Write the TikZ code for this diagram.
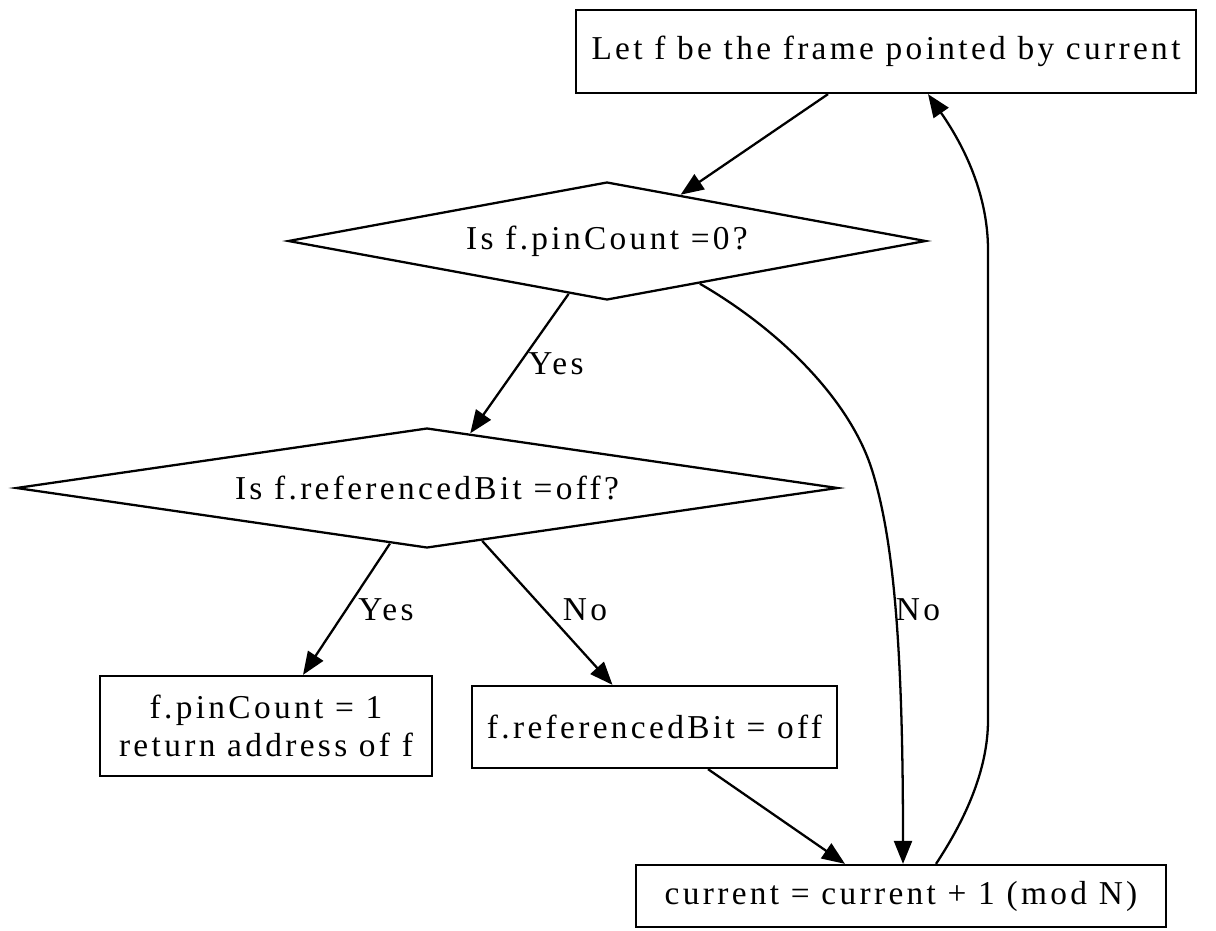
\documentclass[tikz,border=0pt]{standalone}
\usepackage{fontspec}
\setmainfont{Liberation Serif}[LetterSpace=10]
\usetikzlibrary{arrows.meta, positioning, shapes.geometric, calc}

\begin{document}
\begin{tikzpicture}[x=0.02cm, y=-0.02cm, font=\fontsize{19}{22}\selectfont,
    box/.style={draw, rectangle, line width=1.3pt, inner sep=0pt, align=center},
    ask/.style={draw, diamond, line width=1.3pt, inner sep=0pt},
    arr/.style={-{Triangle[length=0.46cm, width=0.36cm]}, line width=1.3pt}]
    \useasboundingbox (0,0) rectangle (1216,930);
    % 结点
    \node[box, minimum width=12.4cm, minimum height=1.66cm] (start) at (886,51.5) {Let f be the frame pointed by current};
    \node[ask, aspect=5.4, minimum width=12.76cm, minimum height=2.36cm] (pin) at (607,241) {Is f.pinCount =0?};
    \node[ask, aspect=6.85, minimum width=16.44cm, minimum height=2.4cm] (ref) at (427,488) {Is f.referencedBit =off?};
    \node[box, minimum width=6.64cm, minimum height=2cm] (hit) at (266,726) {f.pinCount = 1\\return address of f};
    \node[box, minimum width=7.3cm, minimum height=1.64cm] (clr) at (654.5,727) {f.referencedBit = off};
    \node[box, minimum width=10.6cm, minimum height=1.24cm] (adv) at (901,896) {current = current + 1 (mod N)};
    % 连线
    \draw[arr] ($(start.south)+(-58,0)$) -- ($(pin.north)!0.23!(pin.east)$);
    \draw[arr] ($(pin.south)!0.12!(pin.west)$) -- ($(ref.north)!0.105!(ref.east)$);
    \draw[arr] ($(ref.south)!0.09!(ref.west)$) -- ($(hit.north)+(37,0)$);
    \draw[arr] ($(ref.south)!0.134!(ref.east)$) -- ($(clr.north)+(-42,0)$);
    \draw[arr] ($(clr.south)+(53.5,0)$) -- ($(adv.north)+(-56,0)$);
    \draw[arr] ($(pin.south)!0.29!(pin.east)$) .. controls (780,330) and (850,400) .. (872,470)
        .. controls (894,540) and (903,650) .. ($(adv.north)+(2,0)$);
    \draw[arr] ($(adv.north)+(35,0)$) .. controls (965,820) and (988,770) .. (988,720)
        -- (988,250) .. controls (988,190) and (960,140) .. ($(start.south)+(42,0)$);
    % 标注
    \node (yes1) at (556,364) {Yes};
    \node (yes2) at (386,610) {Yes};
    \node (no1) at (585,610) {No};
    \node (no2) at (918,610) {No};
\end{tikzpicture}
\end{document}
